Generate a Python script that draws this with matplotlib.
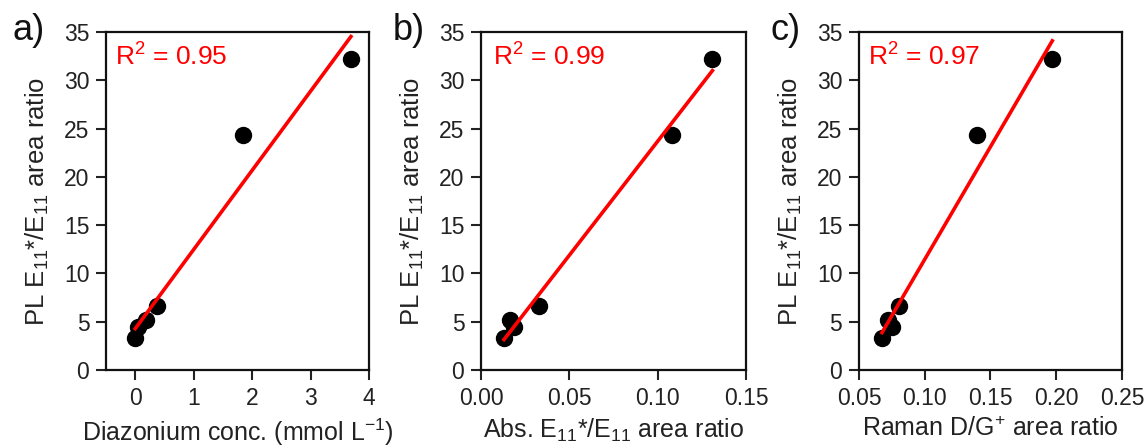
import numpy as np
import matplotlib
matplotlib.use("Agg")
import matplotlib.pyplot as plt

plt.rcParams['font.family'] = ['Liberation Sans', 'DejaVu Sans']
plt.rcParams['mathtext.fontset'] = 'custom'
plt.rcParams['mathtext.rm'] = 'Liberation Sans'
plt.rcParams['mathtext.it'] = 'Liberation Sans'
plt.rcParams['mathtext.default'] = 'regular'

# PL E11*/E11 area ratio (shared y values)
pl_ratio = [3.3, 4.5, 5.2, 6.6, 24.3, 32.2]

# x values for each panel
diazonium = [0.0, 0.05, 0.19, 0.37, 1.85, 3.69]
abs_ratio = [0.0130, 0.0188, 0.0166, 0.0330, 0.108, 0.131]
raman_ratio = [0.0675, 0.0748, 0.0718, 0.0805, 0.140, 0.197]

r2_labels = ["0.95", "0.99", "0.97"]
panel_labels = ["a)", "b)", "c)"]
x_labels = ["Diazonium conc. (mmol L$^{-1}$)",
            "Abs. E$_{11}$*/E$_{11}$ area ratio",
            "Raman D/G$^{+}$ area ratio"]
y_label = "PL E$_{11}$*/E$_{11}$ area ratio"

x_limits = [(-0.5, 4), (0, 0.15), (0.05, 0.25)]
x_ticks = [[0, 1, 2, 3, 4],
           [0.00, 0.05, 0.10, 0.15],
           [0.05, 0.10, 0.15, 0.20, 0.25]]
x_ticklabels = [["0", "1", "2", "3", "4"],
                ["0.00", "0.05", "0.10", "0.15"],
                ["0.05", "0.10", "0.15", "0.20", "0.25"]]

fig = plt.figure(figsize=(11.45, 4.48), dpi=100)
lefts = [0.0926, 0.4201, 0.7502]
widths = [0.2297, 0.2314, 0.2297]
r2_x = [0.033, 0.045, 0.033]
tag_x = [12, 393, 770]  # pixel left edge of the panel tags

for i, xs in enumerate([diazonium, abs_ratio, raman_ratio]):
    ax = fig.add_axes([lefts[i], 0.1741, widths[i], 0.7545])
    xs = np.array(xs)
    ys = np.array(pl_ratio)
    slope, icpt = np.polyfit(xs, ys, 1)
    xf = np.array([xs.min(), xs.max()])
    ax.plot(xf, slope * xf + icpt, color="#ff0000", lw=2.6, zorder=3)
    ax.plot(xs, ys, "o", color="black", ms=11.5, zorder=2)

    ax.set_xlim(*x_limits[i])
    ax.set_ylim(0, 35)
    ax.set_xticks(x_ticks[i])
    ax.set_xticklabels(x_ticklabels[i])
    ax.set_yticks(range(0, 36, 5))
    ax.tick_params(direction="out", length=7, width=1.5, labelsize=16.5,
                   colors="#222222", pad=5)
    for sp in ax.spines.values():
        sp.set_linewidth(1.6)
        sp.set_color("#111111")

    ax.set_xlabel(x_labels[i], fontsize=18, labelpad=5, color="#222222")
    ax.set_ylabel(y_label, fontsize=18.5, labelpad=9, color="#222222")
    ax.text(r2_x[i], 0.925, "R$^{2}$ = " + r2_labels[i], transform=ax.transAxes,
            color="#ff0000", fontsize=19, va="center", ha="left")
    fig.text(tag_x[i] / 1145, 1 - 30 / 448, panel_labels[i],
             fontsize=26, va="center", ha="left", color="#111111")

fig.savefig("out.png", dpi=100)
